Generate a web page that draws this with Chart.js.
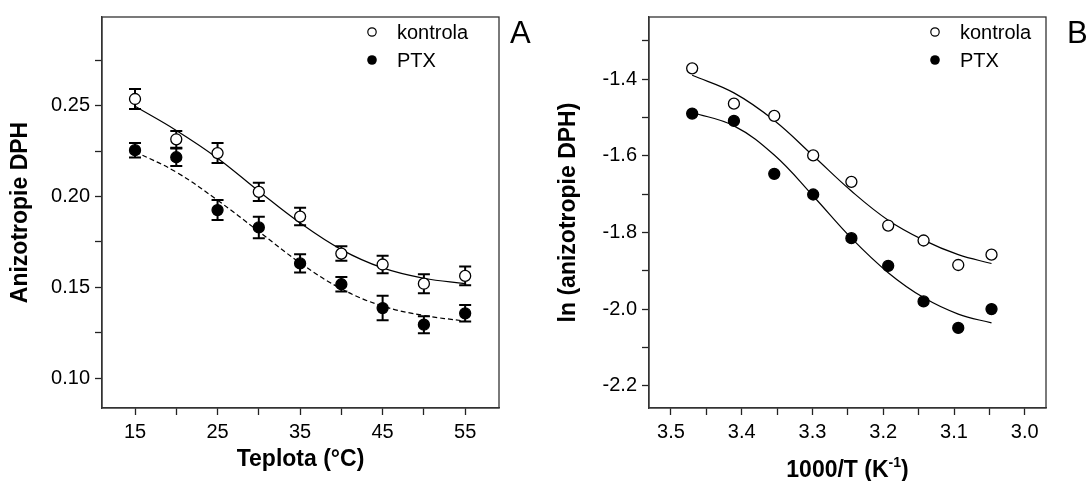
<!DOCTYPE html>
<html>
<head>
<meta charset="utf-8">
<script src="https://cdn.jsdelivr.net/npm/chart.js@4.4.0/dist/chart.umd.min.js"></script>
<style>
  html, body { margin: 0; padding: 0; background: #fff; }
  #wrap { position: relative; width: 1089px; height: 481px; }
  #chartA { position: absolute; left: 0; top: 0; }
  #chartB { position: absolute; left: 545px; top: 0; }
</style>
</head>
<body>
<div id="wrap">
  <canvas id="chartA" width="545" height="481"></canvas>
  <canvas id="chartB" width="544" height="481"></canvas>
</div>
<script>
// Panel A - anisotropy vs temperature
var temps = [15, 20, 25, 30, 35, 40, 45, 50, 55];
var anisoKontrola = [0.2538, 0.2316, 0.2240, 0.2026, 0.1890, 0.1686, 0.1626, 0.1520, 0.1563];
var errKontrola = [0.0055, 0.0046, 0.0055, 0.0050, 0.0048, 0.0040, 0.0048, 0.0052, 0.0052];
var anisoPTX = [0.2256, 0.2217, 0.1926, 0.1830, 0.1632, 0.1517, 0.1386, 0.1294, 0.1357];
var errPTX = [0.0040, 0.0048, 0.0055, 0.0059, 0.0050, 0.0040, 0.0068, 0.0047, 0.0045];
var fitKontrola = [0.2498, 0.2365, 0.2212, 0.2030, 0.1855, 0.1708, 0.1607, 0.1550, 0.1520];
var fitPTX = [0.2248, 0.2135, 0.1980, 0.1808, 0.1635, 0.1492, 0.1397, 0.1345, 0.1314];

// Panel B - ln(anisotropy) vs 1000/T
var invT = [3.470, 3.411, 3.354, 3.299, 3.245, 3.193, 3.143, 3.094, 3.047];
var lnKontrola = [-1.372, -1.464, -1.496, -1.599, -1.668, -1.782, -1.821, -1.885, -1.858];
var lnPTX = [-1.490, -1.509, -1.647, -1.701, -1.815, -1.887, -1.980, -2.049, -2.000];
var lnFitKontrola = [-1.390, -1.436, -1.508, -1.600, -1.692, -1.768, -1.820, -1.858, -1.881];
var lnFitPTX = [-1.487, -1.522, -1.598, -1.705, -1.815, -1.905, -1.970, -2.013, -2.036];

// Tick positions (all) and the labelled ones
var xTicksA = [15, 20, 25, 30, 35, 40, 45, 50, 55];
var xLabelsA = [15, 25, 35, 45, 55];
var yTicksA = [0.100, 0.125, 0.150, 0.175, 0.200, 0.225, 0.250, 0.275];
var yLabelsA = [0.10, 0.15, 0.20, 0.25];
var xTicksB = [3.50, 3.45, 3.40, 3.35, 3.30, 3.25, 3.20, 3.15, 3.10, 3.05, 3.00];
var xLabelsB = [3.5, 3.4, 3.3, 3.2, 3.1, 3.0];
var yTicksB = [-2.2, -2.1, -2.0, -1.9, -1.8, -1.7, -1.6, -1.5, -1.4, -1.3];
var yLabelsB = [-2.2, -2.0, -1.8, -1.6, -1.4];

Chart.defaults.font.family = '"Liberation Sans", Arial, sans-serif';
Chart.defaults.color = '#000';

function pairs(xs, ys) {
    return xs.map(function(x, i) { return { x: x, y: ys[i] }; });
}

function hasValue(list, v) {
    return list.some(function(w) { return Math.abs(w - v) < 1e-6; });
}

// error bars, drawn under the markers
var errorBarPlugin = {
    id: 'errorBars',
    beforeDatasetsDraw: function(chart) {
        var ctx = chart.ctx;
        var xs = chart.scales.x, ys = chart.scales.y;
        chart.data.datasets.forEach(function(ds) {
            if (!ds.errors) return;
            ctx.save();
            ctx.strokeStyle = '#000';
            ctx.lineWidth = 2;
            ds.data.forEach(function(p, i) {
                var px = xs.getPixelForValue(p.x);
                var top = ys.getPixelForValue(p.y + ds.errors[i]);
                var bot = ys.getPixelForValue(p.y - ds.errors[i]);
                ctx.beginPath();
                ctx.moveTo(px, top); ctx.lineTo(px, bot);
                ctx.moveTo(px - 6, top); ctx.lineTo(px + 6, top);
                ctx.moveTo(px - 6, bot); ctx.lineTo(px + 6, bot);
                ctx.stroke();
            });
            ctx.restore();
        });
    }
};

// frame, legend and panel letter
function decorPlugin(cfg) {
    return {
        id: 'decor',
        afterDraw: function(chart) {
            var ctx = chart.ctx, a = chart.chartArea;
            ctx.save();
            ctx.strokeStyle = '#333';
            ctx.lineWidth = 1.3;
            ctx.strokeRect(a.left, a.top, a.right - a.left, a.bottom - a.top);

            ctx.font = '20px "Liberation Sans", Arial, sans-serif';
            ctx.fillStyle = '#000';
            ctx.textBaseline = 'alphabetic';
            ctx.textAlign = 'left';
            // kontrola
            ctx.beginPath();
            ctx.arc(cfg.legendX, 32, 4.2, 0, Math.PI * 2);
            ctx.fillStyle = '#fff'; ctx.fill();
            ctx.lineWidth = 1.2; ctx.strokeStyle = '#000'; ctx.stroke();
            ctx.fillStyle = '#000';
            ctx.fillText('kontrola', cfg.legendX + 25, 39);
            // PTX
            ctx.beginPath();
            ctx.arc(cfg.legendX, 60, 4.8, 0, Math.PI * 2);
            ctx.fill();
            ctx.fillText('PTX', cfg.legendX + 25, 67);

            ctx.font = '31px "Liberation Sans", Arial, sans-serif';
            ctx.fillText(cfg.letter, cfg.letterX, 43);

            if (cfg.xTitle) {
                var cx = (a.left + a.right) / 2;
                var big = 'bold 23px "Liberation Sans", Arial, sans-serif';
                var small = 'bold 14px "Liberation Sans", Arial, sans-serif';
                ctx.font = big;
                var w1 = ctx.measureText('1000/T (K').width;
                var w3 = ctx.measureText(')').width;
                ctx.font = small;
                var w2 = ctx.measureText('-1').width;
                var x0 = cx - (w1 + w2 + w3) / 2;
                var base = 477;
                ctx.font = big;
                ctx.fillText('1000/T (K', x0, base);
                ctx.font = small;
                ctx.fillText('-1', x0 + w1, base - 10);
                ctx.font = big;
                ctx.fillText(')', x0 + w1 + w2, base);
            }
            ctx.restore();
        }
    };
}

function axisCommon() {
    return {
        grid: { drawOnChartArea: false, drawTicks: true, tickLength: 7, tickColor: '#222', tickWidth: 1.3 },
        border: { display: true, color: '#333', width: 1.3 }
    };
}

function pointSet(label, xs, ys, errs, filled) {
    return {
        label: label,
        data: pairs(xs, ys),
        errors: errs,
        showLine: false,
        pointRadius: 5.5,
        pointBorderWidth: 1.3,
        pointBorderColor: '#000',
        pointBackgroundColor: filled ? '#000' : '#fff',
        order: 1
    };
}

function fitSet(xs, ys, dash) {
    return {
        label: 'fit',
        data: pairs(xs, ys),
        showLine: true,
        pointRadius: 0,
        borderColor: '#000',
        borderWidth: 1.2,
        borderDash: dash,
        tension: 0.4,
        order: 2
    };
}

// Panel A
var gA = axisCommon();
new Chart(document.getElementById('chartA').getContext('2d'), {
    type: 'scatter',
    data: {
        datasets: [
            pointSet('kontrola', temps, anisoKontrola, errKontrola, false),
            pointSet('PTX', temps, anisoPTX, errPTX, true),
            fitSet(temps, fitKontrola, []),
            fitSet(temps, fitPTX, [5, 3])
        ]
    },
    options: {
        responsive: false,
        animation: false,
        layout: { padding: { left: 0, right: 46, top: 13, bottom: 0 } },
        plugins: { legend: { display: false }, tooltip: { enabled: false } },
        scales: {
            x: {
                type: 'linear', min: 11, max: 59.1,
                afterBuildTicks: function(s) { s.ticks = xTicksA.map(function(v) { return { value: v }; }); },
                afterFit: function(s) { s.height = 73; },
                grid: gA.grid, border: gA.border,
                ticks: {
                    font: { size: 20 }, padding: 5, maxRotation: 0, autoSkip: false,
                    callback: function(v) { return hasValue(xLabelsA, v) ? String(v) : ''; }
                },
                title: { display: true, text: 'Teplota (°C)', font: { size: 23, weight: 'bold' }, padding: { top: 0, bottom: 8 } }
            },
            y: {
                type: 'linear', min: 0.0835, max: 0.299,
                afterBuildTicks: function(s) { s.ticks = yTicksA.map(function(v) { return { value: v }; }); },
                afterFit: function(s) { s.width = 102; },
                grid: gA.grid, border: gA.border,
                ticks: {
                    font: { size: 20 }, padding: 5, autoSkip: false,
                    callback: function(v) { return hasValue(yLabelsA, v) ? v.toFixed(2) : ''; }
                },
                title: { display: true, text: 'Anizotropie DPH', font: { size: 23, weight: 'bold' }, padding: { top: 7, bottom: 0 } }
            }
        }
    },
    plugins: [errorBarPlugin, decorPlugin({ legendX: 372, letter: 'A', letterX: 510 })]
});

// Panel B
var gB = axisCommon();
new Chart(document.getElementById('chartB').getContext('2d'), {
    type: 'scatter',
    data: {
        datasets: [
            pointSet('kontrola', invT, lnKontrola, null, false),
            pointSet('PTX', invT, lnPTX, null, true),
            fitSet(invT, lnFitKontrola, []),
            fitSet(invT, lnFitPTX, [])
        ]
    },
    options: {
        responsive: false,
        animation: false,
        layout: { padding: { left: 0, right: 43, top: 13, bottom: 0 } },
        plugins: { legend: { display: false }, tooltip: { enabled: false } },
        scales: {
            x: {
                type: 'linear', min: 2.970, max: 3.531, reverse: true,
                afterBuildTicks: function(s) { s.ticks = xTicksB.map(function(v) { return { value: v }; }); },
                afterFit: function(s) { s.height = 73; },
                grid: gB.grid, border: gB.border,
                ticks: {
                    font: { size: 20 }, padding: 5, maxRotation: 0, autoSkip: false,
                    callback: function(v) { return hasValue(xLabelsB, v) ? v.toFixed(1) : ''; }
                },
                title: { display: false }
            },
            y: {
                type: 'linear', min: -2.258, max: -1.238,
                afterBuildTicks: function(s) { s.ticks = yTicksB.map(function(v) { return { value: v }; }); },
                afterFit: function(s) { s.width = 104; },
                grid: gB.grid, border: gB.border,
                ticks: {
                    font: { size: 20 }, padding: 5, autoSkip: false,
                    callback: function(v) { return hasValue(yLabelsB, v) ? v.toFixed(1) : ''; }
                },
                title: { display: true, text: 'ln (anizotropie DPH)', font: { size: 23, weight: 'bold' }, padding: { top: 10, bottom: 0 } }
            }
        }
    },
    plugins: [errorBarPlugin, decorPlugin({ legendX: 390, letter: 'B', letterX: 522, xTitle: true })]
});
</script>
</body>
</html>
